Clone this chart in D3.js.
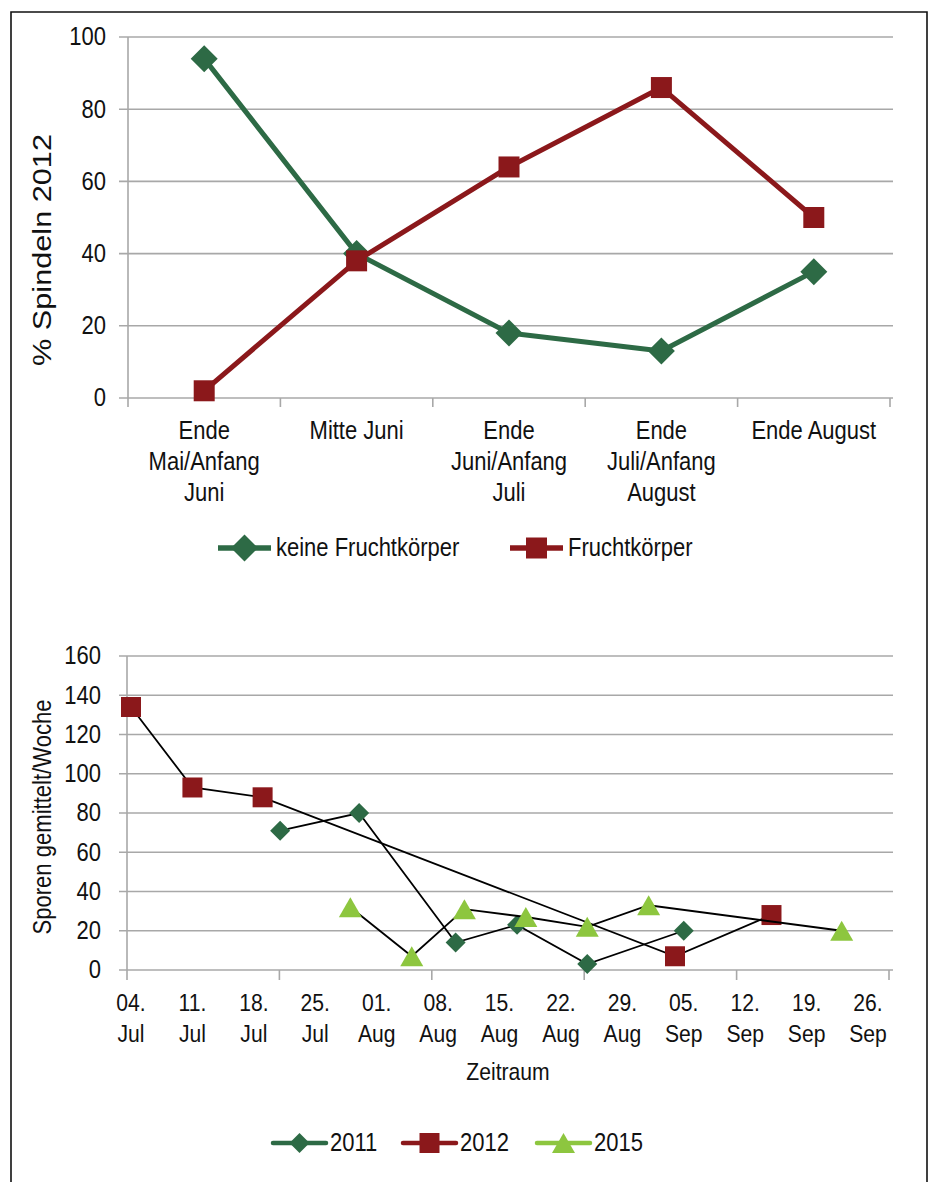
<!DOCTYPE html>
<html>
<head>
<meta charset="utf-8">
<script src="https://cdn.jsdelivr.net/npm/d3@7/dist/d3.min.js"></script>
<style>
  html, body { margin: 0; padding: 0; background: #fff; }
  svg { display: block; }
  text { font-family: "Liberation Sans", Arial, Helvetica, sans-serif; fill: #111; }
</style>
</head>
<body>
<svg id="chart" width="931" height="1182"></svg>
<script>
// ---------- DATA ----------
// Top chart
const categories = [
  ["Ende", "Mai/Anfang", "Juni"],
  ["Mitte Juni"],
  ["Ende", "Juni/Anfang", "Juli"],
  ["Ende", "Juli/Anfang", "August"],
  ["Ende August"]
];
const keineFrucht = [94, 40, 18, 13, 35];
const frucht = [2, 38, 64, 86, 50];
const topYTicks = [0, 20, 40, 60, 80, 100];
const topSeriesNames = ["keine Fruchtkörper", "Fruchtkörper"];

// Bottom chart (dates as month-day)
const dates2011 = ["07-21", "07-30", "08-10", "08-17", "08-25", "09-05"];
const vals2011  = [71, 80, 14, 23, 3, 20];
const dates2012 = ["07-04", "07-11", "07-19", "09-04", "09-15"];
const vals2012  = [134, 93, 88, 7, 28];
const dates2015 = ["07-29", "08-05", "08-11", "08-18", "08-25", "09-01", "09-23"];
const vals2015  = [32, 7, 31, 27, 22, 33, 20];
const bottomYTicks = [0, 20, 40, 60, 80, 100, 120, 140, 160];
const xTickDates = ["07-04", "07-11", "07-18", "07-25", "08-01", "08-08", "08-15",
                    "08-22", "08-29", "09-05", "09-12", "09-19", "09-26"];
const bottomSeriesNames = ["2011", "2012", "2015"];

// ---------- STYLE ----------
const GREEN = "#2d6a45", RED = "#8b181b", LIGHT = "#8dc63f", GRID = "#a8a8a8";
const SX = 0.88; // condensed look
const svg = d3.select("#chart");
const parse = d3.timeParse("%m-%d");

// condensed text helper
function label(parent, x, y, txt, size, anchor) {
  const g = parent.append("g").attr("transform", `translate(${x},${y})`);
  g.append("text").attr("transform", `scale(${SX},1)`)
    .attr("text-anchor", anchor || "middle")
    .attr("dominant-baseline", "central")
    .attr("font-size", size).text(txt);
  return g;
}

// frame
svg.append("path")
  .attr("d", "M11,1182 L11,12 L927,12 L927,1182")
  .attr("fill", "none").attr("stroke", "#111").attr("stroke-width", 1.6);

function diamond(r) { return `M0,${-r}L${r},0L0,${r}L${-r},0Z`; }
function square(s) { const h = s / 2; return `M${-h},${-h}H${h}V${h}H${-h}Z`; }
function triangle(w, h) { return `M0,${-h/2}L${w/2},${h/2}L${-w/2},${h/2}Z`; }

// ---------- TOP CHART ----------
const tX0 = 128, tX1 = 890, tY0 = 398, tY1 = 37;
const yTop = d3.scaleLinear().domain([0, 100]).range([tY0, tY1]);
const xTop = d3.scaleBand().domain(d3.range(categories.length)).range([tX0, tX1]);
const topG = svg.append("g");

topG.selectAll(".grid").data(topYTicks).join("line")
  .attr("x1", tX0 - 9).attr("x2", tX1 + 3)
  .attr("y1", d => yTop(d)).attr("y2", d => yTop(d))
  .attr("stroke", GRID).attr("stroke-width", 1.6);
topYTicks.forEach(t => label(topG, 106, yTop(t), t, 25, "end"));
topG.append("line").attr("x1", tX0).attr("x2", tX0).attr("y1", tY1).attr("y2", tY0)
  .attr("stroke", GRID).attr("stroke-width", 1.6);
const bounds = d3.range(categories.length + 1).map(i => tX0 + i * xTop.bandwidth());
topG.selectAll(".ctick").data(bounds).join("line")
  .attr("x1", d => d).attr("x2", d => d).attr("y1", tY0).attr("y2", tY0 + 9)
  .attr("stroke", GRID).attr("stroke-width", 1.6);

const cx = i => xTop(i) + xTop.bandwidth() / 2;
categories.forEach((lines, i) => {
  lines.forEach((t, j) => label(topG, cx(i), 431 + j * 31, t, 25, "middle"));
});

topG.append("text")
  .attr("transform", `translate(42,250) rotate(-90)`)
  .attr("text-anchor", "middle").attr("dominant-baseline", "central")
  .attr("font-size", 25).attr("textLength", 232).attr("lengthAdjust", "spacingAndGlyphs")
  .text("% Spindeln 2012");

const lineTop = d3.line().x((d, i) => cx(i)).y(d => yTop(d));
topG.append("path").attr("d", lineTop(keineFrucht)).attr("fill", "none")
  .attr("stroke", GREEN).attr("stroke-width", 5).attr("stroke-linejoin", "round");
topG.selectAll(".gm").data(keineFrucht).join("path")
  .attr("d", diamond(13.5)).attr("fill", GREEN)
  .attr("transform", (d, i) => `translate(${cx(i)},${yTop(d)})`);
topG.append("path").attr("d", lineTop(frucht)).attr("fill", "none")
  .attr("stroke", RED).attr("stroke-width", 5).attr("stroke-linejoin", "round");
topG.selectAll(".rm").data(frucht).join("path")
  .attr("d", square(21)).attr("fill", RED)
  .attr("transform", (d, i) => `translate(${cx(i)},${yTop(d)})`);

const tLeg = [
  { name: topSeriesNames[0], color: GREEN, x: 218, shape: diamond(13.5) },
  { name: topSeriesNames[1], color: RED, x: 510, shape: square(21) }
];
tLeg.forEach(d => {
  const g = topG.append("g").attr("transform", `translate(${d.x},548)`);
  g.append("line").attr("x1", 0).attr("x2", 53).attr("stroke", d.color).attr("stroke-width", 5.5);
  g.append("path").attr("d", d.shape).attr("fill", d.color).attr("transform", "translate(26.5,0)");
  label(g, 58, 0, d.name, 25, "start");
});

// ---------- BOTTOM CHART ----------
const bX0 = 127, bX1 = 889, bY0 = 970, bY1 = 656;
const yBot = d3.scaleLinear().domain([0, 160]).range([bY0, bY1]);
const xBot = d3.scaleTime().domain([parse(xTickDates[0]), parse(xTickDates[xTickDates.length - 1])]).range([131, 868]);
const botG = svg.append("g");

botG.selectAll(".grid").data(bottomYTicks).join("line")
  .attr("x1", bX0 - 8).attr("x2", bX1 + 4)
  .attr("y1", d => yBot(d)).attr("y2", d => yBot(d))
  .attr("stroke", GRID).attr("stroke-width", 1.6);
bottomYTicks.forEach(t => label(botG, 101, yBot(t), t, 25, "end"));
botG.append("line").attr("x1", bX0).attr("x2", bX0).attr("y1", bY1).attr("y2", bY0)
  .attr("stroke", GRID).attr("stroke-width", 1.6);
const bTicks = d3.range(6).map(i => bX0 + i * (bX1 - bX0) / 5);
botG.selectAll(".btick").data(bTicks).join("line")
  .attr("x1", d => d).attr("x2", d => d).attr("y1", bY0).attr("y2", bY0 + 10)
  .attr("stroke", GRID).attr("stroke-width", 1.6);

const fmtDay = d3.timeFormat("%d."), fmtMon = d3.timeFormat("%b");
xTickDates.map(parse).forEach(d => {
  label(botG, xBot(d), 1003, fmtDay(d), 24, "middle");
  label(botG, xBot(d), 1034, fmtMon(d), 24, "middle");
});

label(botG, 508, 1072, "Zeitraum", 24, "middle");
botG.append("text")
  .attr("transform", `translate(42,817) rotate(-90)`)
  .attr("text-anchor", "middle").attr("dominant-baseline", "central")
  .attr("font-size", 25).attr("textLength", 235).attr("lengthAdjust", "spacingAndGlyphs")
  .text("Sporen gemittelt/Woche");

const series = [
  { name: bottomSeriesNames[0], dates: dates2011, vals: vals2011, color: GREEN, shape: diamond(10) },
  { name: bottomSeriesNames[1], dates: dates2012, vals: vals2012, color: RED, shape: square(20) },
  { name: bottomSeriesNames[2], dates: dates2015, vals: vals2015, color: LIGHT, shape: triangle(23, 20) }
];
const lineBot = d3.line().x(d => xBot(d.date)).y(d => yBot(d.v));
series.forEach(s => {
  const pts = s.dates.map((d, i) => ({ date: parse(d), v: s.vals[i] }));
  botG.append("path").attr("d", lineBot(pts)).attr("fill", "none")
    .attr("stroke", "#000").attr("stroke-width", 1.8);
  botG.append("g").selectAll("path").data(pts).join("path")
    .attr("d", s.shape).attr("fill", s.color)
    .attr("transform", d => `translate(${xBot(d.date)},${yBot(d.v)})`);
});

const bLegX = [273, 403, 537];
series.forEach((d, i) => {
  const g = botG.append("g").attr("transform", `translate(${bLegX[i]},1143)`);
  g.append("line").attr("x1", 0).attr("x2", 53).attr("stroke", d.color)
    .attr("stroke-width", 4.5).attr("stroke-linecap", "round");
  g.append("path").attr("d", d.shape).attr("fill", d.color).attr("transform", "translate(26.5,0)");
  label(g, 57, 0, d.name, 25, "start");
});
</script>
</body>
</html>
